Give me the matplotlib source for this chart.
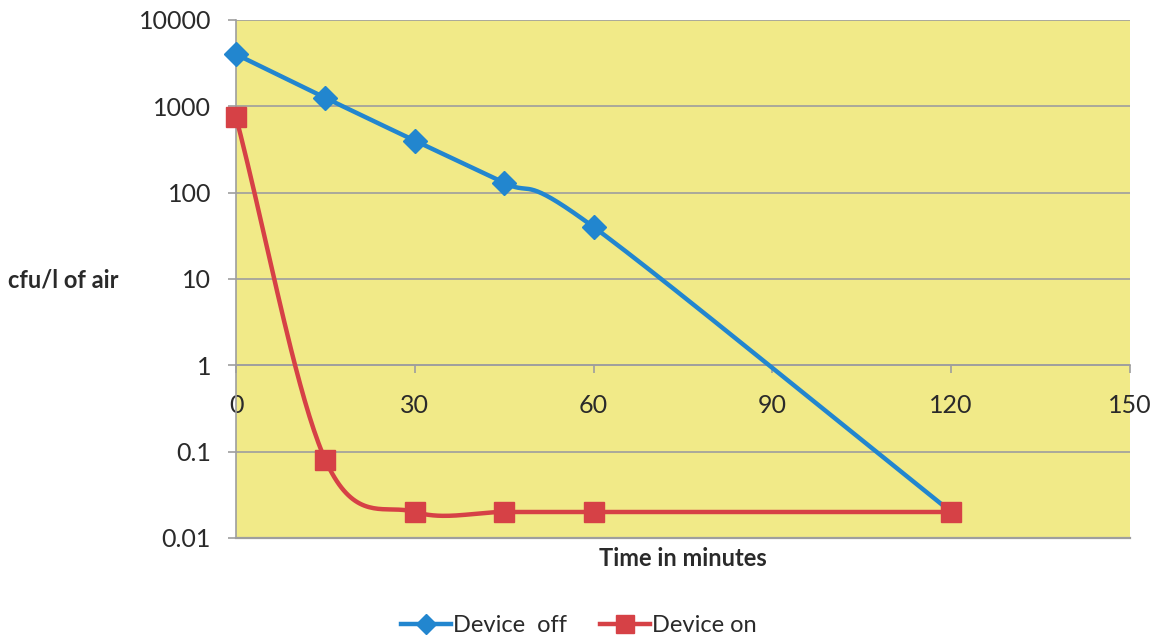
import numpy as np
import matplotlib.pyplot as plt
from matplotlib.ticker import FixedLocator, FuncFormatter, NullLocator

# minutes after start and counts (cfu per litre of air)
minutes_off = [0, 15, 30, 45, 60, 120]
cfu_off = [4000, 1250, 400, 130, 40, 0.02]
minutes_on = [0, 15, 30, 45, 60, 120]
cfu_on = [750, 0.08, 0.02, 0.02, 0.02, 0.02]

y_ticks = [0.01, 0.1, 1, 10, 100, 1000, 10000]
x_ticks = [0, 30, 60, 90, 120, 150]

BLUE = '#2286cf'
RED = '#d64146'
YELLOW = '#f1ea88'
GRID = '#9e9e9e'
TEXT = '#2a2a2a'


def smooth(x, y, n=40):
    # catmull-rom through the points, done on log10(y) so it looks right on a log axis
    px = np.asarray(x, float)
    py = np.log10(np.asarray(y, float))
    px = np.concatenate([[2 * px[0] - px[1]], px, [2 * px[-1] - px[-2]]])
    py = np.concatenate([[2 * py[0] - py[1]], py, [2 * py[-1] - py[-2]]])
    xs, ys = [], []
    t = np.linspace(0, 1, n)
    for i in range(1, len(px) - 2):
        for arr, out in ((px, xs), (py, ys)):
            p0, p1, p2, p3 = arr[i - 1:i + 3]
            out.extend(0.5 * (2 * p1 + (-p0 + p2) * t
                              + (2 * p0 - 5 * p1 + 4 * p2 - p3) * t ** 2
                              + (-p0 + 3 * p1 - 3 * p2 + p3) * t ** 3))
    return np.array(xs), 10 ** np.array(ys)


plt.rcParams['font.family'] = ['Lato', 'DejaVu Sans']

fig = plt.figure(figsize=(11.58, 6.4), dpi=100)
ax = fig.add_axes([0.2038, 0.1594, 0.772, 0.8094])
ax.set_facecolor(YELLOW)

ax.set_yscale('log')
ax.set_xlim(0, 150)
ax.set_ylim(0.01, 10000)

sx, sy = smooth(minutes_off, cfu_off)
ax.plot(sx, sy, color=BLUE, lw=3.2, zorder=3)
ax.plot(minutes_off[:-1], cfu_off[:-1], 'D', color=BLUE, ms=12, zorder=4, clip_on=False)

sx, sy = smooth(minutes_on, cfu_on)
ax.plot(sx, sy, color=RED, lw=3.2, zorder=3)
ax.plot(minutes_on, cfu_on, 's', color=RED, ms=14, zorder=5, clip_on=False)

# legend handles
ax.plot([], [], color=BLUE, lw=3.2, marker='D', ms=10, label='Device  off')
ax.plot([], [], color=RED, lw=3.2, marker='s', ms=13, label='Device on')

ax.yaxis.set_major_locator(FixedLocator(y_ticks))
ax.yaxis.set_minor_locator(NullLocator())
ax.yaxis.set_major_formatter(FuncFormatter(lambda v, p: '%g' % v))
ax.set_xticks(x_ticks)

ax.grid(True, axis='y', color=GRID, lw=1.2)
ax.set_axisbelow(True)

for side in ['top', 'right']:
    ax.spines[side].set_visible(False)
ax.spines['left'].set_color(GRID)
ax.spines['left'].set_linewidth(1.2)
ax.spines['bottom'].set_position(('data', 1))
ax.spines['bottom'].set_color(GRID)
ax.spines['bottom'].set_linewidth(1.2)
ax.axhline(0.01, color=GRID, lw=1.6, clip_on=False)

ax.tick_params(axis='both', colors=GRID, labelcolor=TEXT, labelsize=18,
               direction='out', width=1.2)
ax.tick_params(axis='y', length=6, pad=12)
ax.tick_params(axis='x', length=6, pad=15)

fig.text(0.007, 0.563, 'cfu/l of air', fontsize=17, fontweight='bold',
         color=TEXT, va='center', ha='left')
fig.text(0.59, 0.128, 'Time in minutes', fontsize=17, fontweight='bold',
         color=TEXT, va='center', ha='center')

fig.legend(loc='center', bbox_to_anchor=(0.5, 0.022), ncol=2, frameon=False,
           fontsize=17, handlelength=2.1, columnspacing=1.4, handletextpad=0.1,
           labelcolor=TEXT)

fig.savefig('out.png', dpi=100)
